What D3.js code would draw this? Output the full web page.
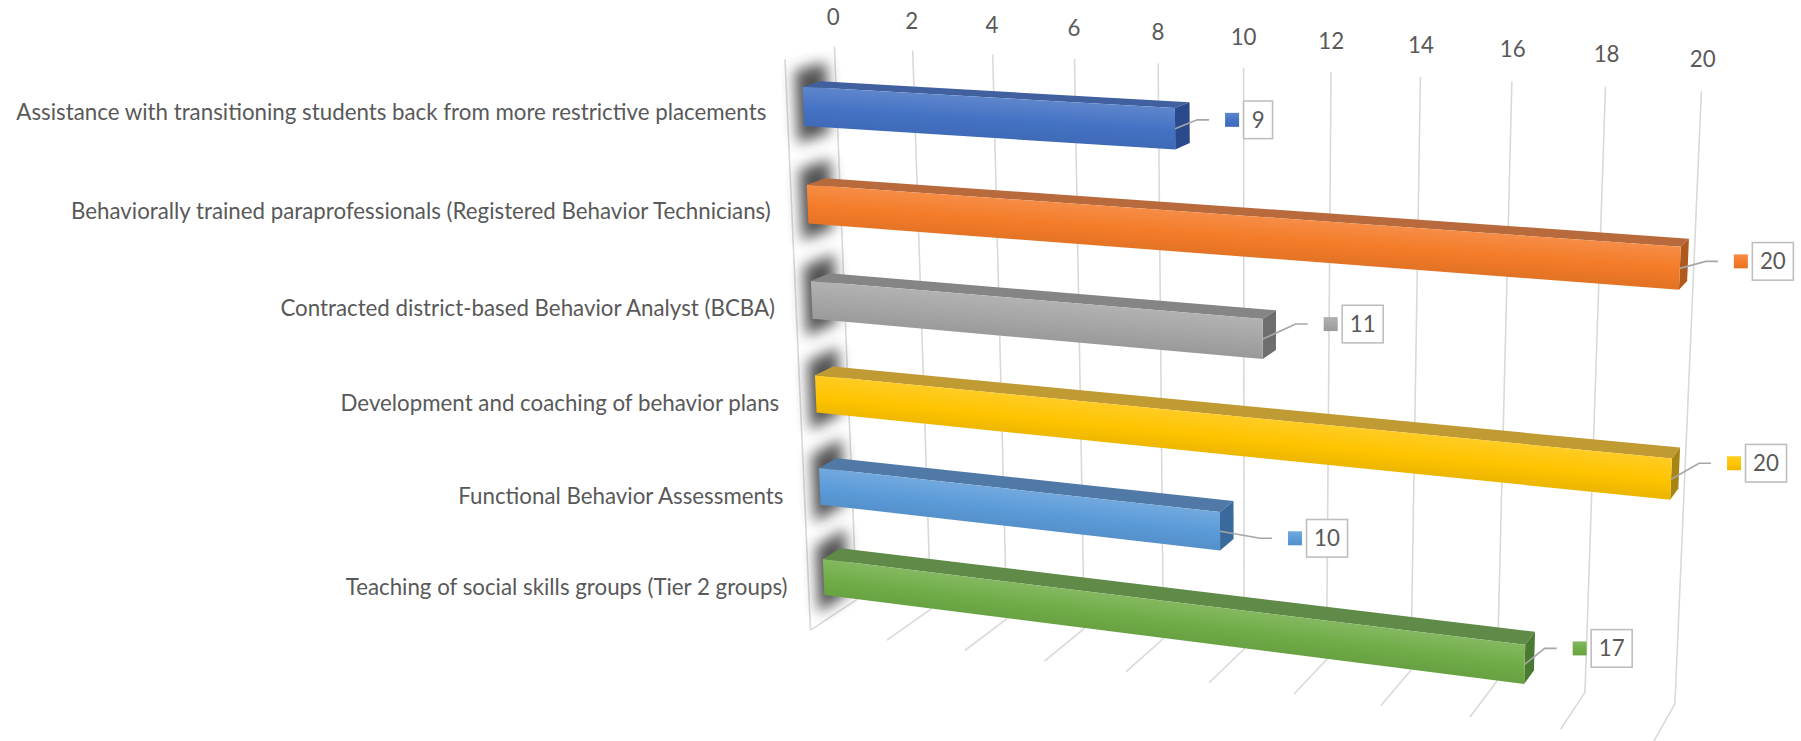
<!DOCTYPE html>
<html>
<head>
<meta charset="utf-8">
<script src="https://cdn.jsdelivr.net/npm/d3@7"></script>
<style>
  html, body { margin: 0; padding: 0; background: #fff; }
  svg { display: block; }
  text { font-family: Lato, "Open Sans", sans-serif; fill: #595959; }
</style>
</head>
<body>
<div id="chart"></div>
<script>
// chart data
var categories = [
    "Assistance with transitioning students back from more restrictive placements",
    "Behaviorally trained paraprofessionals (Registered Behavior Technicians)",
    "Contracted district-based Behavior Analyst (BCBA)",
    "Development and coaching of behavior plans",
    "Functional Behavior Assessments",
    "Teaching of social skills groups (Tier 2 groups)"
];
var values = [9, 20, 11, 20, 10, 17];
var tickLabels = [0, 2, 4, 6, 8, 10, 12, 14, 16, 18, 20];

// colours per bar
var barColors = ["#4472C4", "#F47B28", "#A5A5A5", "#FFC400", "#5B9BD9", "#70AD47"];
var topFaceColors = ["#40609f", "#b96a3c", "#858585", "#c09a33", "#5079a8", "#5f8a47"];
var endFaceColors = ["#2b4a8c", "#b0591f", "#6e6e6e", "#a88512", "#3a6a9c", "#4a7a32"];

// where each value label sits, relative to the end of its bar
var labelOffsets = [[34, -9], [38, -7], [45, -15], [40, -16], [52, 7], [32, -16]];

var svgWidth = 1801;
var svgHeight = 741;
var fontSize = 22.3;

var svg = d3.select("#chart")
    .append("svg")
    .attr("width", svgWidth)
    .attr("height", svgHeight);

var defs = svg.append("defs");
defs.append("filter")
    .attr("id", "wallShadow")
    .attr("x", "-80%").attr("y", "-80%")
    .attr("width", "260%").attr("height", "260%")
    .append("feGaussianBlur")
    .attr("stdDeviation", 7);

// plot box axes all run 0..1: value, category, depth
var valueScale = d3.scaleLinear().domain([0, 20]).range([0, 1]);
var bandScale = d3.scaleBand().domain(categories).range([0.003, 1.003])
    .paddingInner(0.6).paddingOuter(0.3);
var barDepth = [0.30, 0.68];

// box corners on screen, used to solve the perspective camera
var anchors = [
    [0, 0, 0, 834.3, 47], [1, 0, 0, 1701.3, 91],
    [0, 1, 0, 856, 599], [1, 1, 0, 1674.8, 704],
    [0, 1, 1, 810.7, 630], [1, 1, 1, 1653.4, 741],
    [0, 0, 1, 785, 59],
    [0.5, 0, 0, 1243.7, 67.7], [0.5, 1, 0, 1244.7, 649.3], [0.5, 1, 1, 1209, 683.7]
];

//least squares fit of a 3x4 projection matrix
function fitCamera(pts) {
    var rows = [], rhs = [];
    pts.forEach(function (p) {
        var v = p[0], t = p[1], d = p[2], X = p[3] / 1000, Y = p[4] / 1000;
        rows.push([v, t, d, 1, 0, 0, 0, 0, -X * v, -X * t, -X * d]);
        rhs.push(X);
        rows.push([0, 0, 0, 0, v, t, d, 1, -Y * v, -Y * t, -Y * d]);
        rhs.push(Y);
    });
    var n = 11;
    var m = d3.range(n).map(function (i) {
        var r = d3.range(n).map(function (j) {
            return d3.sum(rows, function (row) { return row[i] * row[j]; });
        });
        r.push(d3.sum(rows, function (row, k) { return row[i] * rhs[k]; }));
        return r;
    });
    for (var i = 0; i < n; i++) {
        var best = i;
        for (var k = i + 1; k < n; k++) {
            if (Math.abs(m[k][i]) > Math.abs(m[best][i])) best = k;
        }
        var tmp = m[i]; m[i] = m[best]; m[best] = tmp;
        for (var k2 = 0; k2 < n; k2++) {
            if (k2 === i) continue;
            var f = m[k2][i] / m[i][i];
            for (var j = i; j <= n; j++) m[k2][j] -= f * m[i][j];
        }
    }
    return m.map(function (r, idx) { return r[n] / r[idx]; });
}

var cam = fitCamera(anchors);

function project(v, t, d) {
    var w = cam[8] * v + cam[9] * t + cam[10] * d + 1;
    return [
        1000 * (cam[0] * v + cam[1] * t + cam[2] * d + cam[3]) / w,
        1000 * (cam[4] * v + cam[5] * t + cam[6] * d + cam[7]) / w
    ];
}

var line = d3.line();

// walls and floor
var gridGroup = svg.append("g")
    .attr("fill", "none")
    .attr("stroke", "#d9d9d9")
    .attr("stroke-width", 1.6);

gridGroup.selectAll("path.grid")
    .data(tickLabels)
    .enter()
    .append("path")
    .attr("class", "grid")
    .attr("d", function (d) {
        var v = valueScale(d);
        return line([project(v, 0, 0), project(v, 1, 0), project(v, 1, 1)]);
    });

gridGroup.append("path")
    .attr("d", line([project(0, 0, 1), project(0, 1, 1)]));

// value axis labels above the back wall
svg.selectAll("text.tick")
    .data(tickLabels)
    .enter()
    .append("text")
    .attr("class", "tick")
    .attr("text-anchor", "middle")
    .attr("dy", "0.35em")
    .attr("font-size", fontSize)
    .attr("x", function (d) { return project(valueScale(d), -0.05, 0)[0]; })
    .attr("y", function (d) { return project(valueScale(d), -0.05, 0)[1]; })
    .text(function (d) { return d; });

// category labels left of the side wall
svg.selectAll("text.category")
    .data(categories)
    .enter()
    .append("text")
    .attr("class", "category")
    .attr("text-anchor", "end")
    .attr("dy", "0.35em")
    .attr("font-size", fontSize)
    .attr("x", function (d) { return project(0, bandScale(d) + bandScale.bandwidth() / 2, 1)[0] - 21; })
    .attr("y", function (d) { return project(0, bandScale(d) + bandScale.bandwidth() / 2, 1)[1] + 1; })
    .text(function (d) { return d; });

// bars
var barGroup = svg.selectAll("g.bar")
    .data(categories.map(function (c, i) { return { name: c, value: values[i], index: i }; }))
    .enter()
    .append("g")
    .attr("class", "bar");

function stops(grad, c) {
    var base = d3.color(c);
    grad.append("stop").attr("offset", "0%").attr("stop-color", d3.interpolateRgb(c, "#fff")(0.14));
    grad.append("stop").attr("offset", "55%").attr("stop-color", base);
    grad.append("stop").attr("offset", "100%").attr("stop-color", base.darker(0.2));
}

barGroup.each(function (b) {
    var g = d3.select(this);
    var t0 = bandScale(b.name);
    var t1 = t0 + bandScale.bandwidth();
    var v = valueScale(b.value);
    var dBack = barDepth[0], dFront = barDepth[1];

    // blurred shadow on the side wall
    g.append("path")
        .attr("d", line([
            project(0, t0 - 0.03, 0.18), project(0, t0 - 0.03, 0.82),
            project(0, t1 + 0.025, 0.82), project(0, t1 + 0.025, 0.18)
        ]) + "Z")
        .attr("fill", "#404040")
        .attr("opacity", 0.9)
        .attr("filter", "url(#wallShadow)");

    var ftl = project(0, t0, dFront), ftr = project(v, t0, dFront);
    var fbl = project(0, t1, dFront), fbr = project(v, t1, dFront);
    var btl = project(0, t0, dBack), btr = project(v, t0, dBack);
    var bbr = project(v, t1, dBack);

    // gradient runs square to the length of the bar
    var ax = ftr[0] - ftl[0], ay = ftr[1] - ftl[1];
    var len = Math.hypot(ax, ay);
    var nx = -ay / len, ny = ax / len;
    var mx = (ftl[0] + ftr[0]) / 2, my = (ftl[1] + ftr[1]) / 2;
    var span = ((fbl[0] + fbr[0]) / 2 - mx) * nx + ((fbl[1] + fbr[1]) / 2 - my) * ny;
    var grad = defs.append("linearGradient")
        .attr("id", "front" + b.index)
        .attr("gradientUnits", "userSpaceOnUse")
        .attr("x1", mx).attr("y1", my)
        .attr("x2", mx + nx * span).attr("y2", my + ny * span);
    stops(grad, barColors[b.index]);

    g.append("path")
        .attr("d", line([btl, btr, ftr, ftl]) + "Z")
        .attr("fill", topFaceColors[b.index]);
    g.append("path")
        .attr("d", line([ftr, btr, bbr, fbr]) + "Z")
        .attr("fill", endFaceColors[b.index]);
    g.append("path")
        .attr("d", line([ftl, ftr, fbr, fbl]) + "Z")
        .attr("fill", "url(#front" + b.index + ")");

    // leader, legend key and boxed value
    var start = project(v, (t0 + t1) / 2, dFront);
    var off = labelOffsets[b.index];
    var endX = start[0] + off[0], endY = start[1] + off[1];
    g.append("path")
        .attr("d", line([start, [endX - 12, endY], [endX, endY]]))
        .attr("fill", "none")
        .attr("stroke", "#a6a6a6")
        .attr("stroke-width", 1.6);

    var keyGrad = defs.append("linearGradient")
        .attr("id", "key" + b.index)
        .attr("x1", 0).attr("y1", 0).attr("x2", 0).attr("y2", 1);
    stops(keyGrad, barColors[b.index]);

    g.append("rect")
        .attr("x", endX + 16)
        .attr("y", endY - 7)
        .attr("width", 14)
        .attr("height", 14)
        .attr("fill", "url(#key" + b.index + ")");

    var boxW = String(b.value).length > 1 ? 41 : 29;
    g.append("rect")
        .attr("x", endX + 34.5)
        .attr("y", endY - 18.8)
        .attr("width", boxW)
        .attr("height", 37.6)
        .attr("fill", "#fff")
        .attr("stroke", "#bfbfbf")
        .attr("stroke-width", 1.6);

    g.append("text")
        .attr("x", endX + 34.5 + boxW / 2)
        .attr("y", endY)
        .attr("dy", "0.35em")
        .attr("text-anchor", "middle")
        .attr("font-size", fontSize)
        .text(b.value);
});
</script>
</body>
</html>
